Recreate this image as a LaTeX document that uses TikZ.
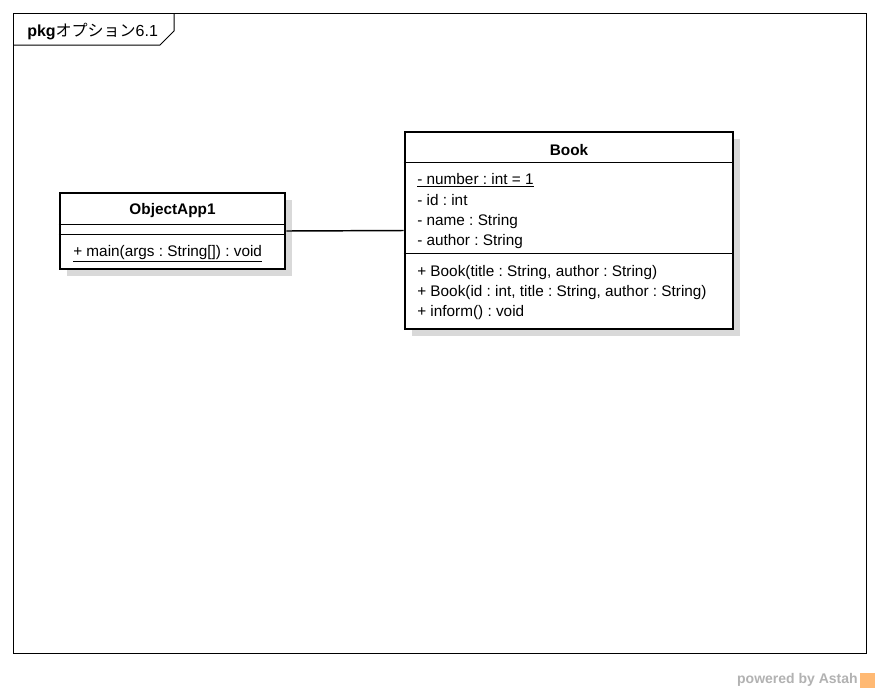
\documentclass[tikz,border=0pt]{standalone}
\usepackage{fontspec}
\setmainfont{Liberation Sans}
\newfontfamily\jpfont{Noto Sans CJK JP}
\usepackage{tikz}
\usetikzlibrary{positioning,shadows}
\frenchspacing

\begin{document}
\begin{tikzpicture}[
      x=0.75pt, y=-0.75pt,
      classbox/.style={rectangle, draw, line width=2.2pt, fill=white,
        drop shadow={shadow xshift=5.2pt, shadow yshift=-5.2pt,
          fill=black!15, opacity=1}},
      classname/.style={font=\fontsize{11.5}{13}\selectfont\bfseries, inner sep=0pt},
      member/.style={anchor=west, inner sep=0pt, font=\fontsize{11.5}{13}\selectfont,
        text height=8.5pt, text depth=2.5pt},
      sep line/.style={line width=0.75pt},
  ]

      \useasboundingbox[fill=white] (0,0) rectangle (880,693);

      % Frame and tab
      \draw[line width=0.75pt] (13,13) rectangle (866,653);
      \draw[line width=0.75pt] (13,45) -- (160,45) -- (174,31) -- (174,13);
      \node[anchor=west, inner sep=0pt, font=\fontsize{12}{14}\selectfont] (tablabel) at (27,31.5)
          {\textbf{pkg}{\jpfont オプション}6.1};

      % Classes
      \node[classbox, minimum width=168.75pt, minimum height=57pt] (app) at (172.5,231) {};
      \node[classbox, minimum width=246pt, minimum height=147.75pt] (book) at (569,230.5) {};

      % Compartments
      \draw[sep line] (app.west |- 0,224) -- (app.east |- 0,224);
      \draw[sep line] (app.west |- 0,234) -- (app.east |- 0,234);
      \draw[sep line] (book.west |- 0,162) -- (book.east |- 0,162);
      \draw[sep line] (book.west |- 0,253) -- (book.east |- 0,253);

      % ObjectApp1
      \node[classname] (appname) at (172.5,211) {ObjectApp1};
      \node[member] (appmain) at (73,252) {\underline{+ main(args : String[]) : void}};

      % Book
      \node[classname] (bookname) at (569,150) {Book};
      \node[member] (number) at (417,180) {\underline{- number : int = 1}};
      \node[member] (id) at (417,201) {- id : int};
      \node[member] (name) at (417,221) {- name : String};
      \node[member] (author) at (417,241) {- author : String};
      \node[member] (ctor1) at (417,272) {+ Book(title : String, author : String)};
      \node[member] (ctor2) at (417,292) {+ Book(id : int, title : String, author : String)};
      \node[member] (inform) at (417,312) {+ inform() : void};

      % Association
      \draw[line width=1.1pt] (app.east) -- (book.west);

      % Footer
      \node[anchor=east, inner sep=0pt, font=\fontsize{10.5}{12}\selectfont\bfseries,
          text=black!30] (powered) at (858,680) {powered by Astah};
      \node[fill=orange!55, minimum size=11.25pt, inner sep=0pt, right=1.5pt of powered] (logo) {};

  \end{tikzpicture}
\end{document}
